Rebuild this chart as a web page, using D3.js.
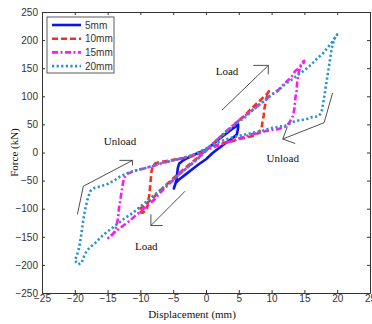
<!DOCTYPE html>
<html>
<head>
<meta charset="utf-8">
<script src="https://cdn.jsdelivr.net/npm/d3@7"></script>
<style>
  body { margin: 0; background: #fff; }
  .tick text { font-family: "Liberation Sans", Arial, sans-serif; font-size: 10px; fill: #333; }
  .tick line, .domain { stroke: #333; }
</style>
</head>
<body>
<div id="chart"></div>
<script>
// series: [displacement (mm), force (kN)] in loop order
const series5 = [[0,5],[1,14],[2,24],[3,33],[4,42],[4.6,47],[4.9,50],[4.9,44],[4.8,38],[4.7,32],[4.2,27],[3.5,21],[3,17],[2,8],[1,-1],[0,-12],[-1,-20],[-2,-29],[-3,-38],[-4,-47],[-4.6,-54],[-4.8,-60],[-4.9,-64],[-4.7,-57],[-4.5,-48],[-4.4,-38],[-4.3,-28],[-4.1,-20],[-3.6,-15],[-3,-11],[-2,-5],[-1,0],[0,5]];

const series10 = [[0,5],[1,15],[2,26],[3,36],[4,46],[5,57],[6,67],[7,79],[8,90],[8.8,99],[9.3,104],[9.6,109],[9.3,100],[9.1,90],[8.9,78],[8.8,66],[8.6,54],[8.5,44],[8.0,35],[7.4,30],[6.6,28],[5.8,26],[5.0,24],[4.0,20],[3,18],[2,15],[1,11],[0,5],[-1,-2],[-2,-6],[-3,-9],[-4,-11],[-5,-13],[-6,-15],[-7,-17],[-7.7,-19],[-8.1,-24],[-8.3,-33],[-8.4,-45],[-8.5,-58],[-8.6,-72],[-8.8,-86],[-9,-100],[-9.6,-107],[-10.2,-106],[-10.1,-100],[-9.5,-96],[-9,-90],[-8,-80],[-7,-68],[-6,-57],[-5,-46],[-4,-36],[-3,-26],[-2,-16],[-1,-7],[0,5]];

const series15 = [[0,5],[1,15],[2,26],[3,37],[4,47],[5,57],[6,66],[7,75],[8,84],[9,93],[10,103],[11,111],[12,123],[13,134],[13.6,145],[14.2,150],[14.8,158],[15,163],[14.6,160],[14.3,150],[14.1,140],[13.9,125],[13.8,110],[13.6,95],[13.5,80],[13.3,66],[12.8,55],[12.3,47],[11.6,44],[10.8,41],[10,40],[9,38],[8,34],[7,33],[6,28],[5,25],[4,21],[3,17],[2,13],[1,9],[0,4],[-1,-1],[-2,-5],[-3,-8],[-4,-11],[-5,-14],[-6,-17],[-7,-20],[-8,-24],[-9,-27],[-10,-30],[-11,-33],[-12,-38],[-12.5,-45],[-12.7,-58],[-12.9,-72],[-13.1,-88],[-13.3,-102],[-13.4,-116],[-13.6,-128],[-13.9,-140],[-14.4,-148],[-14.9,-152],[-14.3,-146],[-13.5,-138],[-12.6,-130],[-11.8,-123],[-11,-115],[-10,-105],[-9,-95],[-8,-85],[-7,-72],[-6,-60],[-5,-49],[-4,-38],[-3,-28],[-2,-18],[-1,-8],[0,5]];

const series20 = [[0,3],[1,14],[2,26],[3,36],[4,45],[5,55],[6,63],[7,74],[8,84],[9,93],[10,103],[11,110],[12,121],[13,129],[14,138],[15,146],[16,156],[17,168],[17.8,176],[18.5,186],[19.2,196],[19.7,205],[20,210],[19.6,203],[19.3,192],[19.1,180],[18.9,165],[18.7,150],[18.5,135],[18.3,120],[18.1,105],[17.9,90],[17.7,76],[17.4,68],[17.0,64],[16.2,63],[15.5,60],[14.6,58],[13.6,56],[12.8,52],[12.0,47],[11.2,46],[10.3,44],[9.5,42],[8.5,38],[7.4,36],[6.3,33],[5.2,30],[4.1,27],[3.0,23],[2.0,19],[1.0,13],[0,7],[-1,1],[-2,-4],[-3,-8],[-4,-11],[-5,-14],[-6,-16],[-7,-19],[-8,-23],[-9,-27],[-10,-30],[-11,-33],[-12,-37],[-13,-42],[-14,-50],[-15,-56],[-16,-60],[-17,-63],[-17.6,-68],[-18.0,-80],[-18.3,-95],[-18.6,-112],[-18.8,-128],[-19.0,-145],[-19.2,-160],[-19.4,-172],[-19.7,-184],[-20,-192],[-19.5,-199],[-19.0,-197],[-18.6,-185],[-18.2,-175],[-17.6,-168],[-16.8,-160],[-15.7,-147],[-14.6,-137],[-13.6,-128],[-12.4,-117],[-11.1,-107],[-10,-96],[-8.5,-82],[-7,-67],[-5.5,-53],[-4,-38],[-2.5,-24],[-1,-9],[0,3]];

const seriesNames = ['5mm', '10mm', '15mm', '20mm'];
const xTicks = [-25, -20, -15, -10, -5, 0, 5, 10, 15, 20, 25];
const yTicks = [-250, -200, -150, -100, -50, 0, 50, 100, 150, 200, 250];

// annotation arrows in data units: shaft polyline, then the two head strokes
const arrows = [
  { shaft: [[2.4, 75], [9.5, 155]], head: [[7.2, 155], [9.5, 155], [9.5, 139]] },
  { shaft: [[19.3, 106], [18.0, 53], [11.7, 24]], head: [[12.4, 46], [11.7, 24], [13.6, 16]] },
  { shaft: [[-19.6, -110], [-18.7, -60], [-11.2, -14]], head: [[-13.2, -14], [-11.2, -14], [-11.2, -23]] },
  { shaft: [[-3.2, -69], [-8.4, -130]], head: [[-6.6, -130], [-8.4, -130], [-8.4, -110]] }
];
const labels = [
  { text: 'Load', x: 3.2, y: 145 },
  { text: 'Unload', x: -13.1, y: 21 },
  { text: 'Unload', x: 11.7, y: -10 },
  { text: 'Load', x: -9.1, y: -167 }
];

const width = 372, height = 324;
const margin = { top: 12, right: 2, bottom: 31, left: 42 };

const svg = d3.select('#chart').append('svg')
  .attr('width', width)
  .attr('height', height);

const x = d3.scaleLinear().domain([-25, 25]).range([margin.left, width - margin.right]);
const y = d3.scaleLinear().domain([-250, 250]).range([height - margin.bottom, margin.top]);

// axes with inward ticks on all four sides
svg.append('g')
  .attr('transform', 'translate(0,' + (height - margin.bottom) + ')')
  .call(d3.axisBottom(x).tickValues(xTicks).tickSizeInner(-3).tickSizeOuter(0).tickPadding(3))
  .call(g => g.selectAll('.tick text').attr('dy', '0.6em'));

svg.append('g')
  .attr('transform', 'translate(0,' + margin.top + ')')
  .call(d3.axisTop(x).tickValues(xTicks).tickSizeInner(-3).tickSizeOuter(0).tickFormat(''));

svg.append('g')
  .attr('transform', 'translate(' + margin.left + ',0)')
  .call(d3.axisLeft(y).tickValues(yTicks).tickSizeInner(-3).tickSizeOuter(0).tickPadding(4));

svg.append('g')
  .attr('transform', 'translate(' + (width - margin.right) + ',0)')
  .call(d3.axisRight(y).tickValues(yTicks).tickSizeInner(-3).tickSizeOuter(0).tickFormat(''));

// curves
const line = d3.line().x(d => x(d[0])).y(d => y(d[1]));
const styles = [
  { color: '#0a14f0', dash: null },
  { color: '#f0321e', dash: '6,3' },
  { color: '#f81cf0', dash: '6,2.5,2,2.5' },
  { color: '#2a92cc', dash: '2.2,2.4' }
];
[series5, series10, series15, series20].forEach((s, i) => {
  svg.append('path')
    .datum(s)
    .attr('fill', 'none')
    .attr('stroke', styles[i].color)
    .attr('stroke-width', 2.6)
    .attr('stroke-linejoin', 'round')
    .attr('stroke-dasharray', styles[i].dash)
    .attr('d', line);
});

// arrows
const thin = d3.line().x(d => x(d[0])).y(d => y(d[1]));
arrows.forEach(a => {
  svg.append('path').attr('d', thin(a.shaft)).attr('fill', 'none').attr('stroke', '#222').attr('stroke-width', 0.8);
  svg.append('path').attr('d', thin(a.head)).attr('fill', 'none').attr('stroke', '#222').attr('stroke-width', 0.8);
});

svg.selectAll('.note')
  .data(labels)
  .enter().append('text')
  .attr('class', 'note')
  .attr('x', d => x(d.x))
  .attr('y', d => y(d.y))
  .attr('dy', '0.35em')
  .attr('text-anchor', 'middle')
  .attr('font-family', '"Liberation Serif", "Times New Roman", serif')
  .attr('font-size', 11)
  .attr('fill', '#111')
  .text(d => d.text);

// legend
const legend = svg.append('g').attr('transform', 'translate(47,17)');
legend.append('rect')
  .attr('width', 67).attr('height', 56)
  .attr('fill', '#fff').attr('stroke', '#333').attr('stroke-width', 0.8);
seriesNames.forEach((name, i) => {
  const ly = 8 + i * 13.7;
  legend.append('line')
    .attr('x1', 5).attr('x2', 34).attr('y1', ly).attr('y2', ly)
    .attr('stroke', styles[i].color).attr('stroke-width', 2.6)
    .attr('stroke-dasharray', styles[i].dash);
  legend.append('text')
    .attr('x', 38).attr('y', ly).attr('dy', '0.35em')
    .attr('font-family', '"Liberation Sans", Arial, sans-serif')
    .attr('font-size', 10).attr('fill', '#333')
    .text(name);
});

// axis titles
svg.append('text')
  .attr('x', 192).attr('y', 318)
  .attr('text-anchor', 'middle')
  .attr('font-family', '"Liberation Serif", "Times New Roman", serif')
  .attr('font-size', 11).attr('fill', '#111')
  .text('Displacement (mm)');

svg.append('text')
  .attr('transform', 'translate(18,' + y(0) + ') rotate(-90)')
  .attr('text-anchor', 'middle')
  .attr('font-family', '"Liberation Serif", "Times New Roman", serif')
  .attr('font-size', 11).attr('fill', '#111')
  .text('Force (kN)');
</script>
</body>
</html>
